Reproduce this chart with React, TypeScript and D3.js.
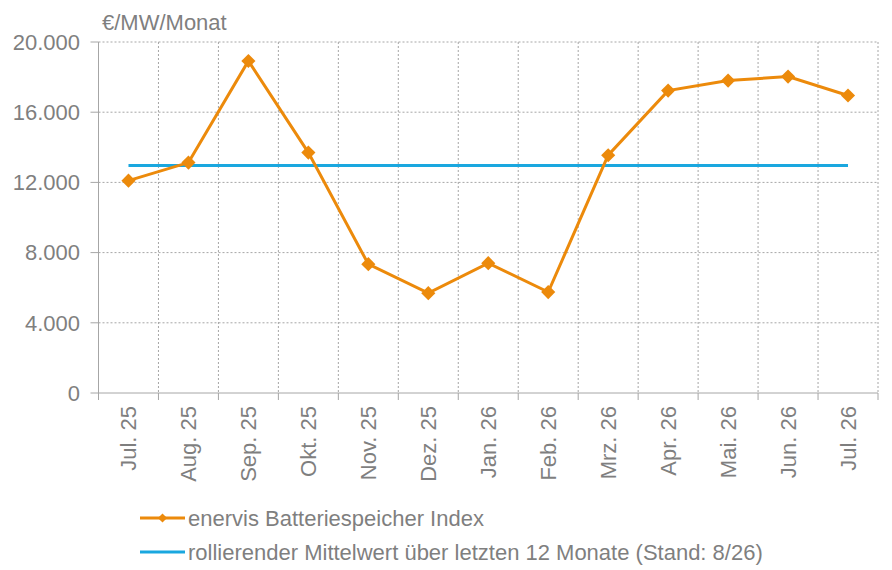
import * as d3 from 'd3';

const months = [
  'Jul. 25', 'Aug. 25', 'Sep. 25', 'Okt. 25', 'Nov. 25', 'Dez. 25', 'Jan. 26',
  'Feb. 26', 'Mrz. 26', 'Apr. 26', 'Mai. 26', 'Jun. 26', 'Jul. 26',
];
const indexValues = [
  12100, 13130, 18920, 13700, 7340, 5690, 7400, 5750, 13550, 17230, 17800, 18030, 16950,
];
const rollingMean = 12960;
const yTicks = [0, 4000, 8000, 12000, 16000, 20000];
const seriesNames = [
  'enervis Batteriespeicher Index',
  'rollierender Mittelwert über letzten 12 Monate (Stand: 8/26)',
];

const width = 892;
const height = 570;
const margin = { left: 98.5, right: 14, top: 42, bottom: 177 };
const orange = '#EC8A0B';
const blue = '#1AA7DF';
const grey = '#7F7F7F';
const font = '"Liberation Sans", Arial, sans-serif';

const fmt = (v: number) => d3.format(',')(v).replace(/,/g, '.');

export default function App() {
  const x = d3
    .scaleBand<string>()
    .domain(months)
    .range([margin.left, width - margin.right])
    .padding(0);
  const y = d3.scaleLinear([0, 20000], [height - margin.bottom, margin.top]);
  const cx = (m: string) => (x(m) ?? 0) + x.bandwidth() / 2;

  const line = d3
    .line<number>()
    .x((_, i) => cx(months[i]))
    .y((d) => y(d));

  // square turned 45° gives the even diamond marker
  const marker = d3.symbol(d3.symbolSquare, 100)() ?? '';
  const legendMarker = d3.symbol(d3.symbolSquare, 42)() ?? '';
  const x0 = margin.left;
  const x1 = width - margin.right;
  const y0 = y(0);

  return (
    <svg
      width={width}
      height={height}
      style={{ position: 'absolute', left: 0, top: 0, background: '#fff' }}
      fontFamily={font}
    >
      {/* horizontal grid */}
      {yTicks.slice(1).map((t) => (
        <line
          key={'h' + t}
          x1={x0}
          x2={x1}
          y1={y(t)}
          y2={y(t)}
          stroke="#A6A6A6"
          strokeDasharray="2,2"
        />
      ))}
      {/* vertical grid */}
      {months.map((m, i) =>
        i === 0 ? null : (
          <line
            key={'v' + m}
            x1={x(m)}
            x2={x(m)}
            y1={margin.top}
            y2={y0}
            stroke="#A6A6A6"
            strokeDasharray="2,2"
          />
        ),
      )}
      <line x1={x1} x2={x1} y1={margin.top} y2={y0} stroke="#A6A6A6" strokeDasharray="2,2" />

      {/* axes */}
      <line x1={x0} x2={x0} y1={margin.top} y2={y0} stroke="#A6A6A6" />
      <line x1={x0} x2={x1} y1={y0} y2={y0} stroke="#A6A6A6" />
      {yTicks.map((t) => (
        <g key={'yt' + t}>
          <line x1={x0 - 8} x2={x0} y1={y(t)} y2={y(t)} stroke="#A6A6A6" />
          <text
            x={80}
            y={y(t)}
            dy="0.35em"
            textAnchor="end"
            fontSize={22}
            fill={grey}
          >
            {fmt(t)}
          </text>
        </g>
      ))}
      {[...months.map((m) => x(m) ?? 0), x1].map((v, i) => (
        <line key={'xt' + i} x1={v} x2={v} y1={y0} y2={y0 + 7} stroke="#A6A6A6" />
      ))}
      {months.map((m) => (
        <text
          key={'xl' + m}
          transform={`translate(${cx(m)},${y0 + 13}) rotate(-90)`}
          dy="0.35em"
          textAnchor="end"
          fontSize={22}
          fill={grey}
        >
          {m}
        </text>
      ))}
      <text x={102} y={30} fontSize={22} fill={grey}>
        €/MW/Monat
      </text>

      {/* rolling mean */}
      <line
        x1={cx(months[0])}
        x2={cx(months[months.length - 1])}
        y1={y(rollingMean)}
        y2={y(rollingMean)}
        stroke={blue}
        strokeWidth={3}
      />

      {/* index series */}
      <path d={line(indexValues) ?? ''} fill="none" stroke={orange} strokeWidth={3} />
      {indexValues.map((v, i) => (
        <path
          key={'p' + i}
          d={marker}
          transform={`translate(${cx(months[i])},${y(v)}) rotate(45)`}
          fill={orange}
        />
      ))}

      {/* legend */}
      <g>
        <line x1={140} x2={185} y1={518} y2={518} stroke={orange} strokeWidth={3} />
        <path d={legendMarker} transform="translate(162.5,518) rotate(45)" fill={orange} />
        <text x={188} y={518} dy="0.35em" fontSize={22} fill={grey}>
          {seriesNames[0]}
        </text>
        <line x1={140} x2={185} y1={552} y2={552} stroke={blue} strokeWidth={3} />
        <text x={188} y={552} dy="0.35em" fontSize={22} fill={grey}>
          {seriesNames[1]}
        </text>
      </g>
    </svg>
  );
}
